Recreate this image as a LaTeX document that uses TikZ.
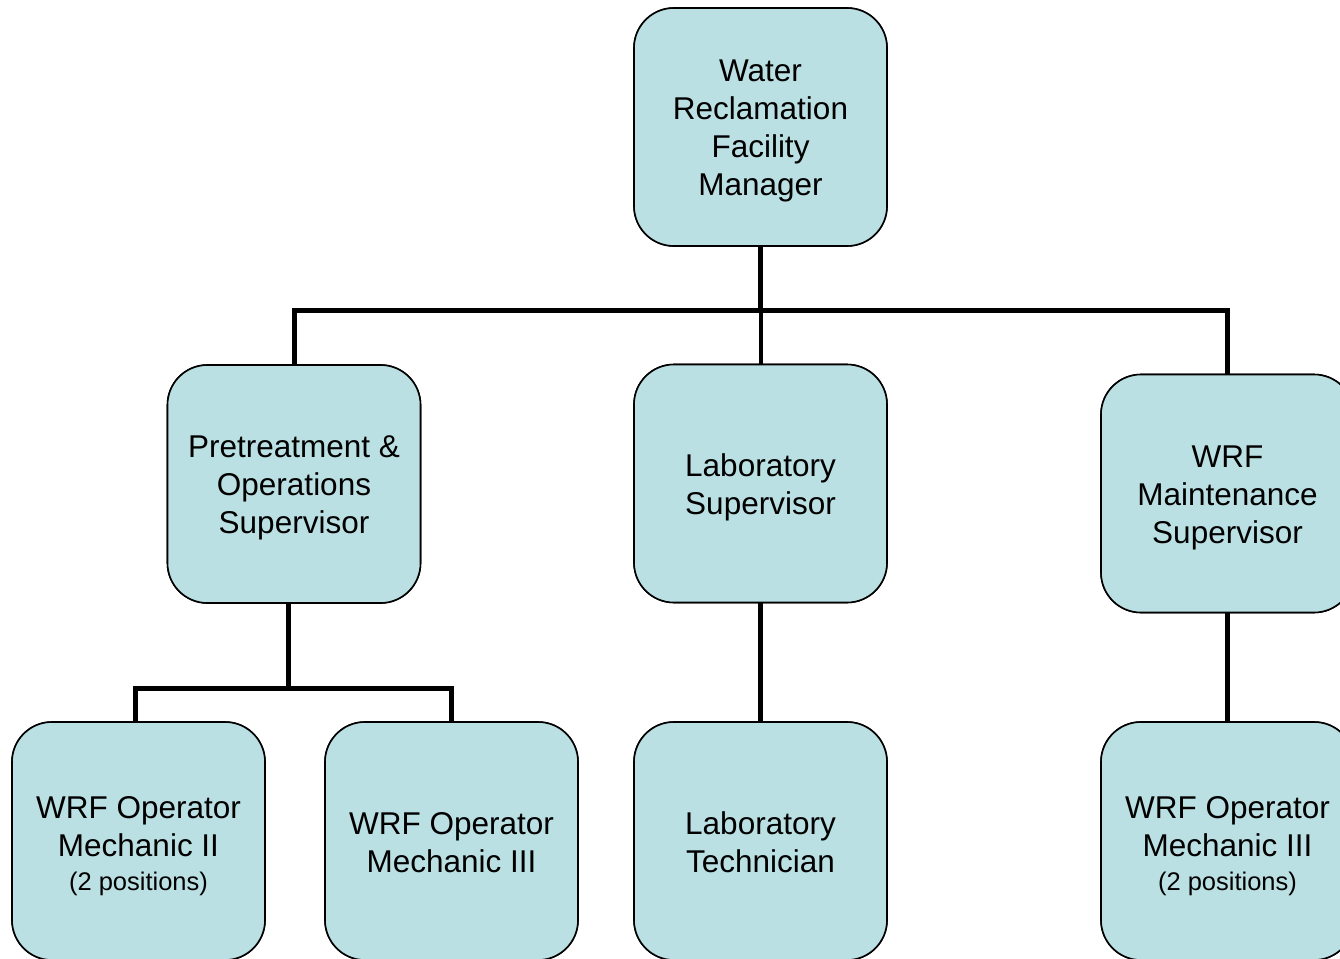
\documentclass[tikz,border=0pt]{standalone}
\usepackage{fontspec}
\setmainfont{Liberation Sans}
\definecolor{boxfill}{RGB}{187,224,227}
\begin{document}
\begin{tikzpicture}[x=1pt,y=-1pt,
  box/.style={draw=black,line width=1.6pt,fill=boxfill,rounded corners=40pt,
    minimum width=253pt,minimum height=238pt,align=center,inner sep=0pt,
    font=\fontsize{31.5}{38}\selectfont},
  conn/.style={draw=black,line width=5pt},
  thinconn/.style={draw=black,line width=4pt},
  label/.style={align=center,inner sep=0pt,font=\fontsize{31.5}{38}\selectfont}]
\useasboundingbox (0,0) rectangle (1340,958);
\clip (0,0) rectangle (1340,958);
\newcommand{\smalltxt}[1]{{\fontsize{25.5}{36}\selectfont #1}}
\coordinate (bus) at (0,310);
\coordinate (bus2) at (0,688);
\node[box] (top) at (760.5,127) {};
\node[box] (pre) at (294,484) {};
\node[box] (lab) at (760.5,483.5) {};
\node[box] (mnt) at (1227.5,493.5) {};
\node[box] (op2) at (138.5,841) {};
\node[box] (op3) at (451.5,841) {};
\node[box] (tech) at (760.5,841) {};
\node[box] (op3b) at (1227.5,841) {};
\draw[conn] (top.south) -- (top.south |- bus);
\draw[conn,line cap=rect] (pre.north) |- (mnt.north |- bus) -- (mnt.north);
\draw[thinconn] (top.south |- bus) -- (lab.north);
\draw[conn] (288,603) -- (288,688);
\draw[conn,line cap=rect] (op2.north -| 135,0) |- (op3.north |- bus2) -- (op3.north);
\draw[conn] (lab.south) -- (tech.north);
\draw[conn] (mnt.south) -- (op3b.north);
% redraw boxes over the connectors, with their texts
\node[box] at (top) {};
\node[box] at (pre) {};
\node[box] at (lab) {};
\node[box] at (mnt) {};
\node[box] at (op2) {};
\node[box] at (op3) {};
\node[box] at (tech) {};
\node[box] at (op3b) {};
\node[label,yshift=-4pt] (ttop) at (top) {Water\\Reclamation\\Facility\\Manager};
\node[label,yshift=-4pt] (tpre) at (pre) {Pretreatment \&\\Operations\\Supervisor};
\node[label,yshift=-4pt] (tlab) at (lab) {Laboratory\\Supervisor};
\node[label,yshift=-4pt] (tmnt) at (mnt) {WRF\\Maintenance\\Supervisor};
\node[label,yshift=-5pt] (top2) at (op2) {WRF Operator\\Mechanic II\\[-4pt]\smalltxt{(2 positions)}};
\node[label,yshift=-2pt] (top3) at (op3) {WRF Operator\\Mechanic III};
\node[label,yshift=-1pt] (ttech) at (tech) {Laboratory\\Technician};
\node[label,yshift=-5pt] (top3b) at (op3b) {WRF Operator\\Mechanic III\\[-4pt]\smalltxt{(2 positions)}};
\end{tikzpicture}
\end{document}
